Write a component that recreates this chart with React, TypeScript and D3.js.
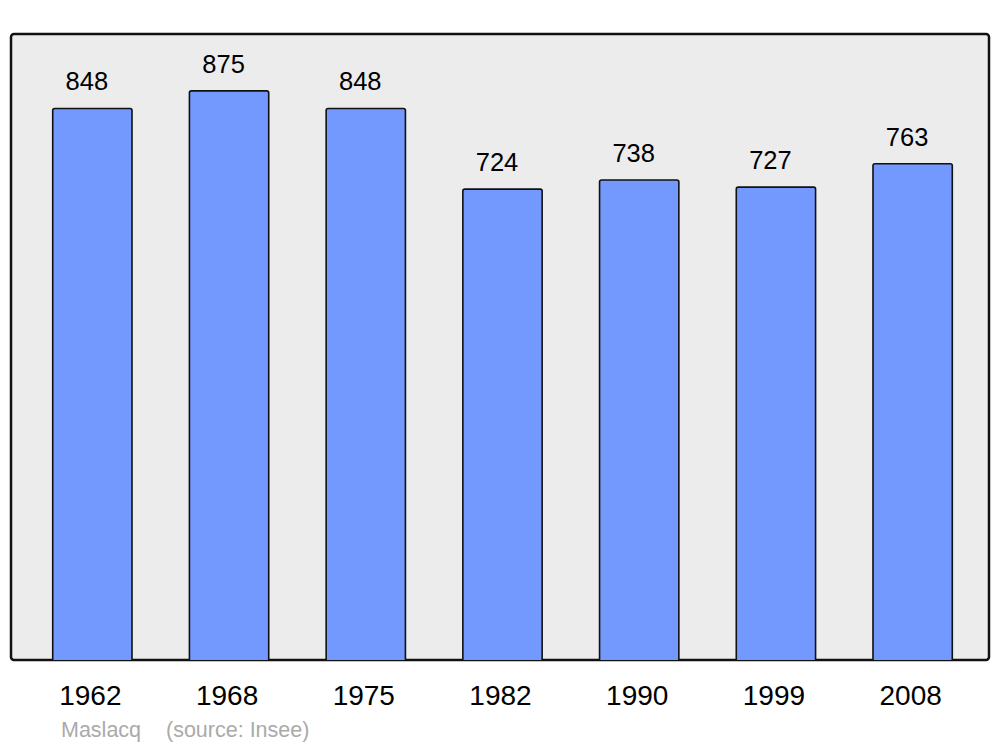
import React from "react";
import * as d3 from "d3";

const years = ["1962", "1968", "1975", "1982", "1990", "1999", "2008"];
const population = [848, 875, 848, 724, 738, 727, 763];
const commune = "Maslacq";
const source = "(source: Insee)";

export default function App() {
  const W = 1000, H = 747;
  const frame = { x0: 11, x1: 989, y0: 34, y1: 660 };
  const x = d3.scaleBand<string>().domain(years).range([24, 981]).paddingInner(0.42).paddingOuter(0.21);
  const y = d3.scaleLinear().domain([0, d3.max(population)! * 1.1]).range([frame.y1, frame.y0]);
  const font = "'Liberation Sans', Arial, sans-serif";
  return (
    <svg width={W} height={H} style={{ position: "absolute", left: 0, top: 0 }} fontFamily={font}>
      <rect x={0} y={0} width={W} height={H} fill="#fff" />
      <rect x={frame.x0} y={frame.y0} width={frame.x1 - frame.x0} height={frame.y1 - frame.y0} rx={3} fill="#ececec" stroke="#111" strokeWidth={2.5} />
      {years.map((yr, i) => {
        const bx = x(yr)!;
        const bw = x.bandwidth();
        const top = y(population[i]);
        return (
          <g key={yr}>
            <path
              d={`M${bx},${frame.y1} V${top + 2} Q${bx},${top} ${bx + 2},${top} H${bx + bw - 2} Q${bx + bw},${top} ${bx + bw},${top + 2} V${frame.y1}`}
              fill="#7399ff" stroke="#111" strokeWidth={1.6}
            />
            <text x={bx + bw / 2 - 5.5} y={top - 18} textAnchor="middle" fontSize={25.5} fill="#000">{population[i]}</text>
            <text x={bx + bw / 2 - 2} y={705} textAnchor="middle" fontSize={28} fill="#000">{yr}</text>
          </g>
        );
      })}
      <text x={61} y={737} fontSize={21.5} fill="#aaaaaa">{commune}</text>
      <text x={166} y={737} fontSize={21.5} fill="#aaaaaa">{source}</text>
    </svg>
  );
}
